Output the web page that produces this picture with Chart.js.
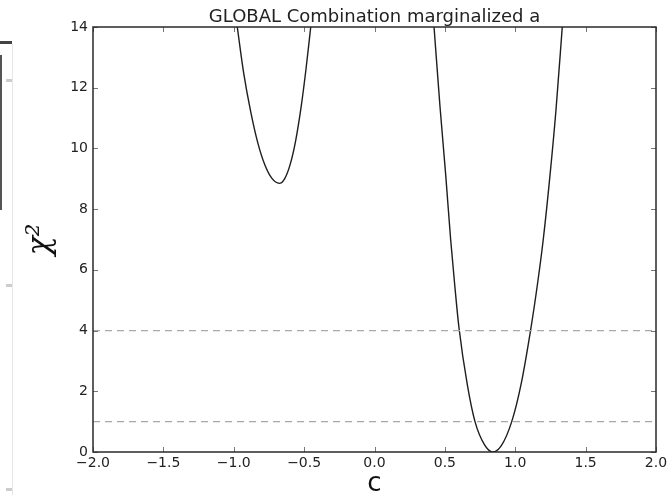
<!DOCTYPE html>
<html>
<head>
<meta charset="utf-8">
<script src="https://cdn.jsdelivr.net/npm/chart.js@4"></script>
<style>
  html, body { margin: 0; padding: 0; background: #fff; }
  #wrap { position: relative; width: 671px; height: 495px; }
  .edge { position: absolute; }
</style>
</head>
<body>
<div id="wrap">
  <canvas id="chi2-chart" width="671" height="495"></canvas>
  <!-- bits of the neighbouring figure that got cropped in on the left -->
  <div class="edge" style="left:0;top:41px;width:12px;height:3px;background:#444"></div>
  <div class="edge" style="left:0;top:55px;width:2px;height:155px;background:#555"></div>
  <div class="edge" style="left:12px;top:44px;width:1px;height:451px;background:#e6e6e6"></div>
  <div class="edge" style="left:6px;top:79px;width:6px;height:3px;background:#ccc"></div>
  <div class="edge" style="left:6px;top:284px;width:6px;height:3px;background:#ccc"></div>
  <div class="edge" style="left:6px;top:488px;width:6px;height:3px;background:#ccc"></div>
</div>
<script>
// chi2 profile, left branch (local minimum near c = -0.68)
var leftC    = [-0.975, -0.93, -0.88, -0.83, -0.78, -0.73, -0.676, -0.64, -0.60, -0.56, -0.52, -0.487, -0.453];
var leftChi2 = [14, 12.5, 11.22, 10.2, 9.47, 9.02, 8.85, 8.99, 9.46, 10.26, 11.41, 12.6, 14];

// chi2 profile, right branch (global minimum near c = 0.84)
var rightC    = [0.423, 0.465, 0.506, 0.541, 0.57, 0.60, 0.66, 0.714, 0.78, 0.84, 0.90, 0.975, 1.04, 1.112, 1.16, 1.199, 1.247, 1.29, 1.334];
var rightChi2 = [14, 11.4, 9.12, 7.0, 5.5, 4.1, 2.2, 1.0, 0.25, 0, 0.2, 1.0, 2.2, 4.1, 5.6, 7.0, 9.12, 11.3, 14];

// reference levels
var levelC = [-2, 2];
var oneSigma = [1, 1];
var twoSigma = [4, 4];

// axis ticks
var xTicks = [-2.0, -1.5, -1.0, -0.5, 0.0, 0.5, 1.0, 1.5, 2.0];
var xTickLabels = ['\u22122.0', '\u22121.5', '\u22121.0', '\u22120.5', '0.0', '0.5', '1.0', '1.5', '2.0'];
var yTicks = [0, 2, 4, 6, 8, 10, 12, 14];
var yTickLabels = ['0', '2', '4', '6', '8', '10', '12', '14'];

function pairs(xs, ys) {
    return xs.map(function (x, i) { return { x: x, y: ys[i] }; });
}

// matplotlib-like frame with ticks pointing inwards on all four sides
var framePlugin = {
    id: 'frame',
    afterDatasetsDraw: function (chart) {
        var ctx = chart.ctx, a = chart.chartArea;
        var xs = chart.scales.x, ys = chart.scales.y;
        ctx.save();
        ctx.strokeStyle = '#777';
        ctx.lineWidth = 1;
        ctx.beginPath();
        xs.ticks.forEach(function (t) {
            var p = Math.round(xs.getPixelForValue(t.value)) + 0.5;
            ctx.moveTo(p, a.bottom); ctx.lineTo(p, a.bottom - 5);
            ctx.moveTo(p, a.top); ctx.lineTo(p, a.top + 5);
        });
        ys.ticks.forEach(function (t) {
            var p = Math.round(ys.getPixelForValue(t.value)) + 0.5;
            ctx.moveTo(a.left, p); ctx.lineTo(a.left + 5, p);
            ctx.moveTo(a.right, p); ctx.lineTo(a.right - 5, p);
        });
        ctx.stroke();
        ctx.strokeStyle = '#2a2a2a';
        ctx.lineWidth = 1.5;
        ctx.strokeRect(a.left, a.top, a.right - a.left, a.bottom - a.top);
        ctx.restore();
    }
};

var ctx = document.getElementById('chi2-chart').getContext('2d');
var chart = new Chart(ctx, {
    type: 'line',
    data: {
        datasets: [{
            data: pairs(levelC, twoSigma),
            borderColor: '#a8a8a8',
            borderWidth: 1.2,
            borderDash: [7, 5]
        }, {
            data: pairs(levelC, oneSigma),
            borderColor: '#a8a8a8',
            borderWidth: 1.2,
            borderDash: [7, 5]
        }, {
            data: pairs(leftC, leftChi2),
            borderColor: '#1e1e1e',
            borderWidth: 1.4,
            cubicInterpolationMode: 'monotone'
        }, {
            data: pairs(rightC, rightChi2),
            borderColor: '#1e1e1e',
            borderWidth: 1.4,
            cubicInterpolationMode: 'monotone'
        }]
    },
    options: {
        responsive: false,
        animation: false,
        devicePixelRatio: 1,
        clip: 0,
        elements: { point: { radius: 0, hoverRadius: 0 } },
        layout: { padding: { left: 0, right: 15, top: 0, bottom: 0 } },
        plugins: {
            legend: { display: false },
            tooltip: { enabled: false },
            title: {
                display: true,
                fullSize: false,
                text: 'GLOBAL Combination marginalized a',
                color: '#222',
                font: { family: 'DejaVu Sans', size: 18, weight: 'normal', lineHeight: 1 },
                padding: { top: 8, bottom: 1 }
            }
        },
        scales: {
            x: {
                type: 'linear',
                min: -2,
                max: 2,
                afterFit: function (s) { s.height = 43; },
                afterBuildTicks: function (s) { s.ticks = xTicks.map(function (v) { return { value: v }; }); },
                grid: { display: false, drawTicks: false },
                border: { display: false },
                ticks: {
                    padding: 3,
                    maxRotation: 0,
                    autoSkip: false,
                    color: '#222',
                    font: { family: 'DejaVu Sans', size: 14 },
                    callback: function (v, i) { return xTickLabels[i]; }
                },
                title: {
                    display: true,
                    text: 'c',
                    color: '#111',
                    font: { family: 'DejaVu Sans', size: 26, lineHeight: 0.85 },
                    padding: { top: 0, bottom: 0 }
                }
            },
            y: {
                min: 0,
                max: 14,
                afterFit: function (s) { s.width = 93; },
                afterBuildTicks: function (s) { s.ticks = yTicks.map(function (v) { return { value: v }; }); },
                grid: { display: false, drawTicks: false },
                border: { display: false },
                ticks: {
                    padding: 5,
                    autoSkip: false,
                    color: '#222',
                    font: { family: 'DejaVu Sans', size: 14 },
                    callback: function (v, i) { return yTickLabels[i]; }
                },
                title: {
                    display: true,
                    text: '\u03c7\u00b2',
                    color: '#111',
                    font: { family: 'DejaVu Serif', size: 32, style: 'italic', lineHeight: 1 },
                    padding: { top: 25, bottom: 0 }
                }
            }
        }
    },
    plugins: [framePlugin]
});
</script>
</body>
</html>
